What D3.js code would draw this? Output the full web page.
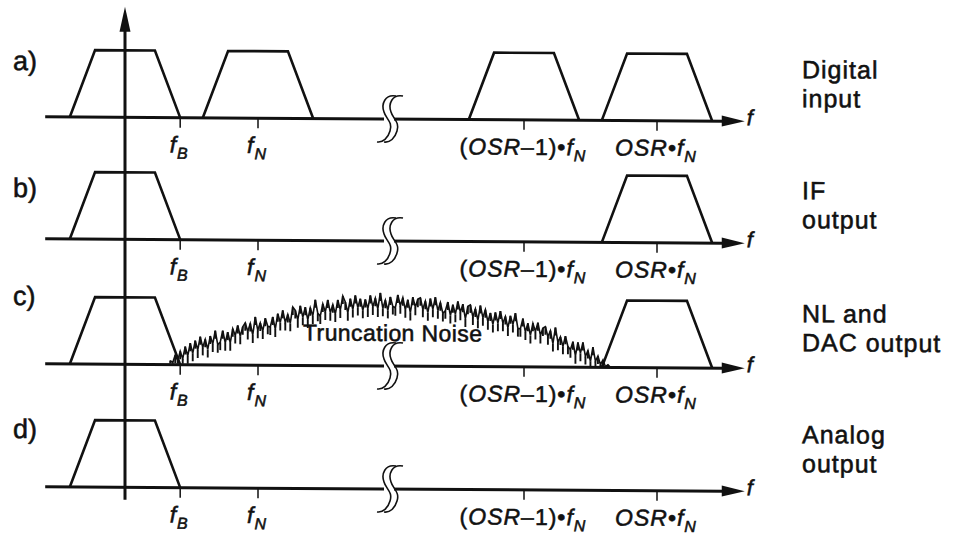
<!DOCTYPE html>
<html>
<head>
<meta charset="utf-8">
<script src="https://cdn.jsdelivr.net/npm/d3@7"></script>
<style>
  body { margin: 0; background: #fff; }
  svg { display: block; font-family: Arial, "Liberation Sans", Helvetica, sans-serif; }
  text { stroke: #111; stroke-width: 0.55px; }
</style>
</head>
<body>
<svg id="chart" width="964" height="535"></svg>
<script>
// frequencies in units of fN, heights relative to the passband level
const rowTags = ['a)', 'b)', 'c)', 'd)'];
const rowNames = [['Digital', 'input'], ['IF', 'output'], ['NL and', 'DAC output'], ['Analog', 'output']];
const rowImages = [[0, 1, 3, 4], [0, 4], [0, 4], [0]];
const rowHasNoise = [false, false, true, false];

const fB = 0.415;
const passHalfTop = 0.225;
const breakAt = 1.97;

const tickValues = [fB, 1, 3, 4];
// [text, style] : r = upright, i = italic, s = italic subscript
const tickLabels = [
    [['f', 'i'], ['B', 's']],
    [['f', 'i'], ['N', 's']],
    [['(', 'r'], ['OSR', 'i'], ['–1)•', 'r'], ['f', 'i'], ['N', 's']],
    [['OSR', 'i'], ['•', 'r'], ['f', 'i'], ['N', 's']]
];

const noiseFrom = 0.34;
const noiseTo = 3.65;
const noiseLevel = [
    0.06, 0.03, 0.14, 0.06, 0.20, 0.09, 0.27, 0.13, 0.32, 0.17,
    0.36, 0.22, 0.42, 0.26, 0.38, 0.23, 0.43, 0.31, 0.51, 0.30,
    0.34, 0.51, 0.33, 0.49, 0.33, 0.54, 0.44, 0.59, 0.43, 0.57,
    0.63, 0.50, 0.62, 0.45, 0.72, 0.52, 0.63, 0.51, 0.70, 0.58,
    0.57, 0.72, 0.54, 0.77, 0.64, 0.82, 0.64, 0.76, 0.63, 0.87,
    0.82, 0.68, 0.89, 0.72, 0.87, 0.68, 0.86, 0.74, 0.98, 0.78,
    0.74, 0.92, 0.80, 0.98, 0.79, 0.91, 0.77, 0.98, 0.83, 1.04,
    0.95, 0.79, 1.00, 0.84, 1.05, 0.87, 1.00, 0.83, 0.99, 0.85,
    1.05, 0.88, 1.01, 0.85, 1.09, 0.86, 0.98, 0.83, 1.03, 0.89,
    0.87, 1.06, 0.90, 1.02, 0.84, 0.99, 0.80, 1.03, 0.88, 1.00,
    1.02, 0.85, 0.97, 0.80, 1.01, 0.85, 1.03, 0.83, 0.95, 0.79,
    0.83, 0.96, 0.76, 0.92, 0.78, 0.97, 0.81, 0.93, 0.71, 0.90,
    0.92, 0.74, 0.86, 0.69, 0.91, 0.73, 0.85, 0.67, 0.80, 0.63,
    0.81, 0.65, 0.83, 0.65, 0.75, 0.58, 0.76, 0.63, 0.80, 0.57,
    0.57, 0.72, 0.52, 0.65, 0.47, 0.65, 0.53, 0.66, 0.47, 0.58,
    0.60, 0.45, 0.54, 0.35, 0.59, 0.37, 0.45, 0.31, 0.46, 0.31,
    0.26, 0.38, 0.17, 0.37, 0.21, 0.37, 0.16, 0.25, 0.09, 0.30,
    0.09, 0.17, 0.04, 0.11, 0.01, 0.04, 0.00
];

// layout
const baselines = [116.5, 238.5, 363.5, 486.5];
const tagDy = [-46.5, -41.5, -58.5, -48.5];
const nameDy = [-43.5, -44.5, -46.5, -48.5];
const ink = '#111';

const x = d3.scaleLinear().domain([0, 4]).range([125, 657]);
const y = d3.scaleLinear().domain([0, 1]).range([0, -67]);
const xNoise = d3.scaleLinear().domain([0, noiseLevel.length - 1]).range([noiseFrom, noiseTo]);

const svg = d3.select('#chart');
// the scanned figure is slightly tilted
const g = svg.append('g').attr('transform', 'skewY(0.367)');

// vertical axis
g.append('line')
    .attr('x1', x(0)).attr('x2', x(0))
    .attr('y1', 28).attr('y2', 499)
    .attr('stroke', ink).attr('stroke-width', 3);
g.append('path')
    .attr('d', `M${x(0)},6 L${x(0) - 5.5},31 L${x(0) + 5.5},31 Z`)
    .attr('fill', ink);

const trapezoid = d3.line().x(d => x(d[0])).y(d => y(d[1]));
const noiseLine = d3.line().x((d, i) => x(xNoise(i))).y(d => y(d));

function breakCurve(cx, dx) {
    const c = cx + dx;
    return `M${c + 9},-23 C${c - 2},-25 ${c - 6},-15 ${c - 3},-7 ` +
        `C${c - 1},0 ${c + 6},3 ${c + 3},12 C${c + 1},19 ${c - 4},24 ${c - 10},23`;
}

rowTags.forEach((tag, r) => {
    const row = g.append('g').attr('transform', `translate(0,${baselines[r]})`);

    // frequency axis
    row.append('line')
        .attr('x1', x(-0.6)).attr('x2', x(4.5))
        .attr('y1', 0).attr('y2', 0)
        .attr('stroke', ink).attr('stroke-width', 3);
    row.append('path')
        .attr('d', `M${x(4.66)},0 L${x(4.66) - 23},-5.5 L${x(4.66) - 23},5.5 Z`)
        .attr('fill', ink);
    row.append('text')
        .attr('x', x(4.66) + 2).attr('y', 4)
        .attr('font-size', 22).attr('font-style', 'italic')
        .attr('fill', ink)
        .text('f');

    // axis break
    const cx = x(breakAt);
    row.append('rect')
        .attr('x', cx - 3).attr('y', -3)
        .attr('width', 10).attr('height', 6)
        .attr('fill', '#fff');
    [0, 7].forEach(dx => {
        row.append('path')
            .attr('d', breakCurve(cx, dx))
            .attr('fill', 'none')
            .attr('stroke', ink).attr('stroke-width', 1.6);
    });

    // ticks and labels
    tickValues.forEach((t, k) => {
        row.append('line')
            .attr('x1', x(t)).attr('x2', x(t))
            .attr('y1', 0).attr('y2', 10)
            .attr('stroke', ink).attr('stroke-width', 1.5);
        const label = row.append('text')
            .attr('x', x(t) - 1).attr('y', 35)
            .attr('text-anchor', 'middle')
            .attr('font-size', 23)
            .attr('letter-spacing', 1)
            .attr('fill', ink);
        tickLabels[k].forEach(([s, style]) => {
            const span = label.append('tspan').text(s);
            if (style !== 'r') span.attr('font-style', 'italic');
            if (style === 's') span.attr('font-size', 16).attr('dy', 6);
        });
    });

    // band images
    rowImages[r].forEach(c => {
        row.append('path')
            .attr('d', trapezoid([[c - fB, 0], [c - passHalfTop, 1], [c + passHalfTop, 1], [c + fB, 0]]))
            .attr('fill', 'none')
            .attr('stroke', ink).attr('stroke-width', 2.6)
            .attr('stroke-linejoin', 'miter');
    });

    if (rowHasNoise[r]) {
        // dense noise band: each sample as a short spike plus the jagged trace
        row.append('g')
            .selectAll('line')
            .data(noiseLevel)
            .join('line')
            .attr('x1', (d, i) => x(xNoise(i)))
            .attr('x2', (d, i) => x(xNoise(i)))
            .attr('y1', d => y(d))
            .attr('y2', d => Math.min(y(d) + 8, -1))
            .attr('stroke', ink).attr('stroke-width', 1.9);
        row.append('path')
            .attr('d', noiseLine(noiseLevel))
            .attr('fill', 'none')
            .attr('stroke', ink).attr('stroke-width', 1.6);
        row.append('text')
            .attr('x', 303).attr('y', -25)
            .attr('font-size', 23)
            .attr('letter-spacing', 0.4)
            .attr('fill', ink)
            .text('Truncation Noise');
    }

    // row tag and description
    row.append('text')
        .attr('x', 13).attr('y', tagDy[r])
        .attr('font-size', 27)
        .attr('fill', ink)
        .text(tag);
    rowNames[r].forEach((line, j) => {
        row.append('text')
            .attr('x', 802).attr('y', nameDy[r] + j * 29)
            .attr('font-size', 25)
            .attr('letter-spacing', 1)
            .attr('fill', ink)
            .text(line);
    });
});
</script>
</body>
</html>
